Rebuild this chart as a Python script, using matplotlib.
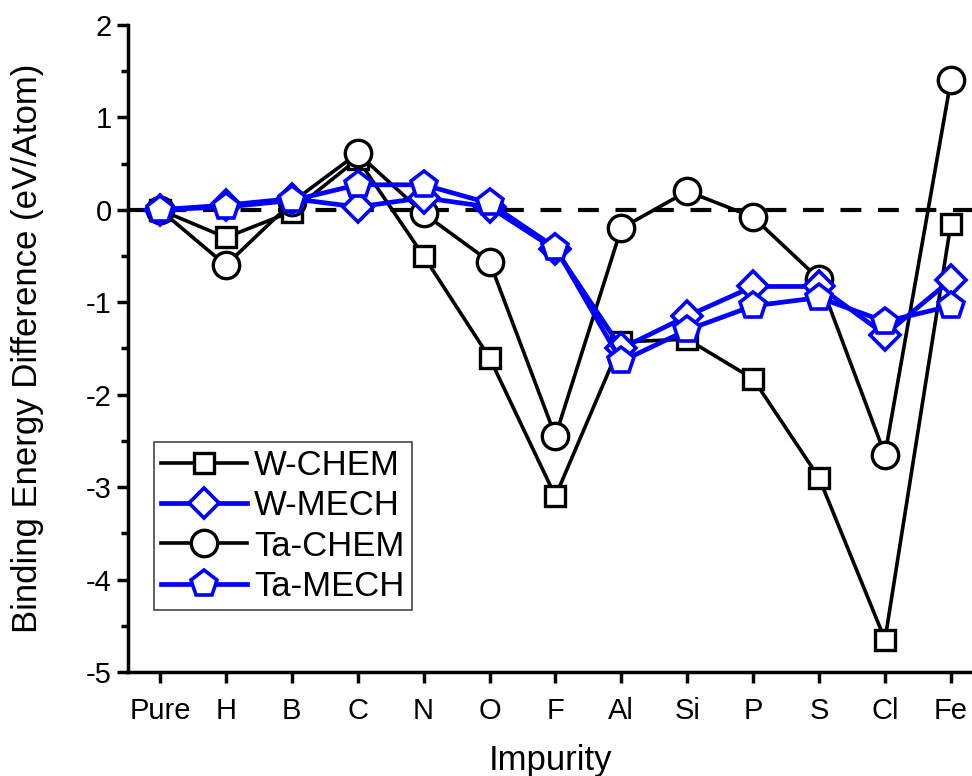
import matplotlib.pyplot as plt
from matplotlib.ticker import MultipleLocator

plt.rcParams['font.family'] = ['Liberation Sans', 'DejaVu Sans']
plt.rcParams['axes.unicode_minus'] = False

impurities = ['Pure', 'H', 'B', 'C', 'N', 'O', 'F', 'Al', 'Si', 'P', 'S', 'Cl', 'Fe']
w_chem = [0.0, -0.30, -0.02, 0.55, -0.50, -1.60, -3.10, -1.43, -1.40, -1.83, -2.90, -4.65, -0.15]
w_mech = [0.0, 0.05, 0.12, 0.03, 0.13, 0.03, -0.43, -1.50, -1.15, -0.83, -0.83, -1.35, -0.76]
ta_chem = [0.0, -0.60, 0.08, 0.61, -0.04, -0.56, -2.45, -0.20, 0.20, -0.08, -0.75, -2.65, 1.40]
ta_mech = [0.0, 0.03, 0.10, 0.27, 0.27, 0.07, -0.41, -1.64, -1.30, -1.04, -0.95, -1.21, -1.04]

x = list(range(len(impurities)))

fig = plt.figure(figsize=(9.72, 7.76), dpi=100)
ax = fig.add_axes([0.132, 0.134, 0.868, 0.834])

ax.axhline(0, color='black', linestyle=(0, (5, 4)), linewidth=3, zorder=1)

ax.plot(x, w_chem, 'k-', marker='s', markersize=15, markerfacecolor='white',
        markeredgewidth=2.4, linewidth=2.6, label='W-CHEM', zorder=3)
ax.plot(x, w_mech, '-', color='#0000ff', marker='D', markersize=15, markerfacecolor='white',
        markeredgewidth=2.6, linewidth=3.4, label='W-MECH', zorder=4)
ax.plot(x, ta_chem, 'k-', marker='o', markersize=19, markerfacecolor='white',
        markeredgewidth=2.4, linewidth=2.6, label='Ta-CHEM', zorder=3)
ax.plot(x, ta_mech, '-', color='#0000ff', marker='p', markersize=20, markerfacecolor='white',
        markeredgewidth=2.6, linewidth=3.4, label='Ta-MECH', zorder=4)

ax.set_xlim(-0.48, 12.32)
ax.set_ylim(-5, 2)
ax.set_xticks(x)
ax.set_xticklabels(impurities)
ax.yaxis.set_major_locator(MultipleLocator(1))
ax.yaxis.set_minor_locator(MultipleLocator(0.5))

for side in ['top', 'right']:
    ax.spines[side].set_visible(False)
for side in ['left', 'bottom']:
    ax.spines[side].set_linewidth(2.5)

ax.tick_params(axis='both', which='major', direction='out', length=8, width=2.5, labelsize=21)
ax.tick_params(axis='x', which='major', pad=10)
ax.tick_params(axis='y', which='major', pad=4)
ax.tick_params(axis='y', which='minor', direction='out', length=5, width=2.5)

ax.set_xlabel('Impurity', fontsize=25, labelpad=14)
ax.set_ylabel('Binding Energy Difference (eV/Atom)', fontsize=25, labelpad=30)

leg = ax.legend(loc='lower left', bbox_to_anchor=(0.03, 0.096), fontsize=25,
                frameon=True, fancybox=False, edgecolor='#444444', framealpha=1,
                handlelength=2.5, handletextpad=0.2, borderpad=0.2, labelspacing=0.21,
                borderaxespad=0)
leg.get_frame().set_linewidth(1.2)

fig.savefig('out.png', dpi=100)
